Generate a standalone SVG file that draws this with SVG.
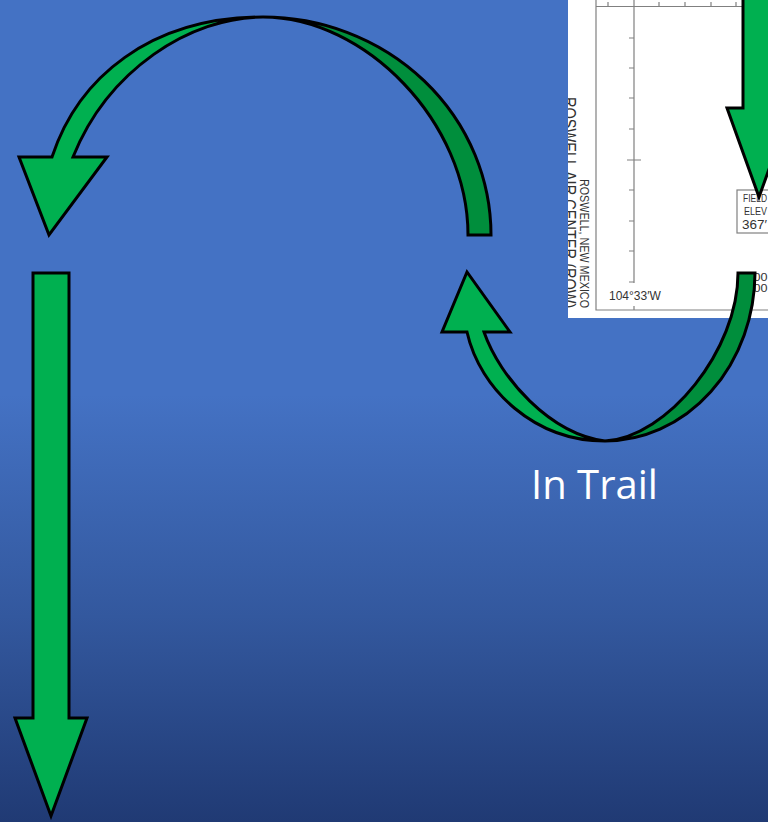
<svg xmlns="http://www.w3.org/2000/svg" width="768" height="822" viewBox="0 0 768 822">
<style>
.a{fill:#00B050;stroke:#000;stroke-width:3;stroke-linejoin:miter}
.d{fill:#008E3C;stroke:#000;stroke-width:3;stroke-linejoin:miter}
.g{stroke:#808080;stroke-width:1.2;fill:none}
.c{font-family:"Liberation Sans",Arial,sans-serif;fill:#333}
</style>
<defs>
<linearGradient id="bg" x1="0" y1="0" x2="0" y2="1">
<stop offset="0" stop-color="#4472C4"/><stop offset="0.48" stop-color="#4472C4"/><stop offset="0.75" stop-color="#33589E"/><stop offset="1" stop-color="#203A74"/>
</linearGradient>
<clipPath id="cc"><rect x="568" y="0" width="200" height="311"/></clipPath>
</defs>
<rect id="background" width="768" height="822" fill="url(#bg)"/>
<g id="chart">
<rect x="568" y="0" width="200" height="318" fill="#fff"/>
<path class="g" d="M596 0V310H768M596 6.5H768M634 0V283M634 306V310M608 2V7M659 2V7M685 2V7M711 2V7M736 2V7M629 38H634M629 68H634M629 98H634M629 129H634M627 160H641M629 190H634M629 221H634M629 251H634M629 282H634"/>
<g clip-path="url(#cc)">
<text class="c" font-size="18" transform="translate(563 97) rotate(90) scale(.81 1)">ROSWELL AIR CENTER (ROW)</text>
<text class="c" font-size="12.5" textLength="129" lengthAdjust="spacingAndGlyphs" transform="translate(580 179) rotate(90)">ROSWELL, NEW MEXICO</text>
</g>
<text class="c" x="609" y="300" font-size="12">104°33′W</text>
<rect x="737" y="190" width="40" height="43" fill="#fff" stroke="#808080" stroke-width="1.2"/>
<text class="c" x="743" y="202" font-size="11.5" textLength="24" lengthAdjust="spacingAndGlyphs">FIELD</text>
<text class="c" x="744" y="215" font-size="11.5" textLength="23" lengthAdjust="spacingAndGlyphs">ELEV</text>
<text class="c" x="742" y="229" font-size="13" textLength="25" lengthAdjust="spacingAndGlyphs">367′</text>
<text class="c" x="746.4" y="281" font-size="10.5" textLength="21" lengthAdjust="spacingAndGlyphs">000</text>
<text class="c" x="746.4" y="292" font-size="10.5" textLength="21" lengthAdjust="spacingAndGlyphs">000</text>
</g>
<g id="connectors">
<g id="arrow-top-down"><path class="a" d="M743 -5V108H727L759 197L791 108H775V-5Z"/></g>
<g id="arc-top">
<path class="d" d="M491 235A228 218 0 0 0 263 17C365 17 468 122 468 235Z"/>
<path class="a" d="M263 17C150 17 78 78 52 157H19L49 235L107 157H73C108 70 190 17 263 17Z"/>
</g>
<g id="arc-bottom">
<path class="d" d="M755 273A150 169 0 0 1 605 441C668 437 738 350 738 273Z"/>
<path class="a" d="M605 441C535 441 480 390 467 332H442L467 272L510 332H484C500 378 550 434 605 441Z"/>
</g>
<g id="arrow-long"><path class="a" d="M33 273H69V718H87L51 816L15 718H33Z"/></g>
</g>
<g id="label"><text x="531" y="499" font-family="'Open Sans','Noto Sans',sans-serif" font-size="40" fill="#fff">In Trail</text></g>
</svg>
